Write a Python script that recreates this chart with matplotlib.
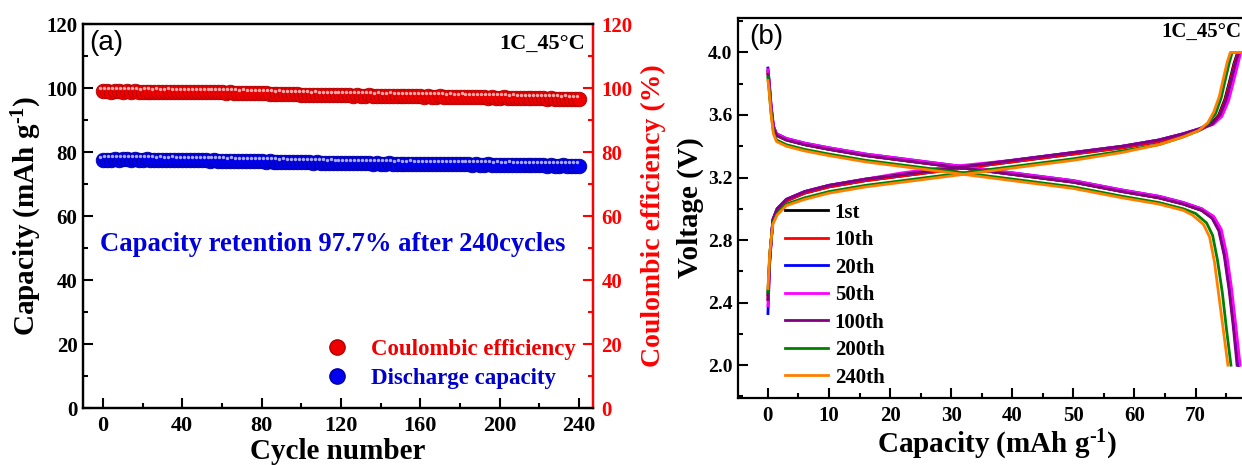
import numpy as np
import matplotlib
matplotlib.use('Agg')
import matplotlib.pyplot as plt
from matplotlib.ticker import MultipleLocator, FormatStrFormatter
from matplotlib.lines import Line2D
import matplotlib.transforms as mtransforms

plt.rcParams['font.family'] = ['Liberation Serif', 'DejaVu Serif']
plt.rcParams['font.weight'] = 'bold'
plt.rcParams['axes.labelweight'] = 'bold'
plt.rcParams['mathtext.fontset'] = 'custom'
plt.rcParams['mathtext.rm'] = 'Liberation Serif:bold'
plt.rcParams['mathtext.default'] = 'rm'

# ---------------- (a) cycling at 1C, 45 C ----------------
cycles = np.arange(0, 241, 2)
coulombic_eff = [99.0, 99.1, 98.9, 99.0, 99.1, 98.9, 99.0, 98.9, 99.0, 98.9,
                 98.8, 98.9, 98.9, 98.8, 98.9, 98.8, 98.8, 98.9, 98.8, 98.7,
                 98.8, 98.8, 98.7, 98.8, 98.7, 98.7, 98.6, 98.7, 98.7, 98.6,
                 98.6, 98.5, 98.6, 98.5, 98.5, 98.4, 98.5, 98.4, 98.4, 98.3,
                 98.3, 98.3, 98.2, 98.2, 98.1, 98.2, 98.1, 98.0, 98.0, 98.0,
                 97.9, 97.9, 97.9, 97.8, 97.9, 97.8, 97.8, 97.7, 97.8, 97.7,
                 97.7, 97.8, 97.7, 97.6, 97.7, 97.6, 97.6, 97.7, 97.6, 97.5,
                 97.6, 97.5, 97.5, 97.6, 97.5, 97.4, 97.5, 97.4, 97.4, 97.5,
                 97.4, 97.3, 97.4, 97.3, 97.3, 97.4, 97.3, 97.2, 97.3, 97.2,
                 97.2, 97.3, 97.2, 97.1, 97.2, 97.1, 97.1, 97.0, 97.1, 97.0,
                 97.0, 97.1, 97.0, 96.9, 97.0, 96.9, 96.9, 96.8, 96.9, 96.8,
                 96.8, 96.8, 96.7, 96.8, 96.7, 96.7, 96.6, 96.7, 96.6, 96.6,
                 96.6]
discharge_cap = [77.5, 77.6, 77.6, 77.7, 77.6, 77.7, 77.7, 77.6, 77.7, 77.6,
                 77.6, 77.7, 77.6, 77.6, 77.5, 77.6, 77.5, 77.5, 77.6, 77.5,
                 77.5, 77.4, 77.5, 77.4, 77.4, 77.5, 77.4, 77.3, 77.4, 77.3,
                 77.3, 77.3, 77.2, 77.3, 77.2, 77.2, 77.1, 77.2, 77.1, 77.1,
                 77.1, 77.0, 77.1, 77.0, 77.0, 76.9, 77.0, 76.9, 76.9, 76.8,
                 76.9, 76.8, 76.8, 76.7, 76.8, 76.7, 76.7, 76.6, 76.7, 76.6,
                 76.6, 76.6, 76.5, 76.6, 76.5, 76.5, 76.6, 76.5, 76.4, 76.5,
                 76.4, 76.4, 76.5, 76.4, 76.3, 76.4, 76.3, 76.3, 76.4, 76.3,
                 76.3, 76.2, 76.3, 76.2, 76.2, 76.3, 76.2, 76.1, 76.2, 76.1,
                 76.1, 76.2, 76.1, 76.0, 76.1, 76.0, 76.0, 76.1, 76.0, 75.9,
                 76.0, 75.9, 75.9, 76.0, 75.9, 75.8, 75.9, 75.8, 75.8, 75.9,
                 75.8, 75.8, 75.7, 75.8, 75.7, 75.7, 75.8, 75.7, 75.7, 75.7,
                 75.7]
retention_text = 'Capacity retention 97.7% after 240cycles'

# ---------------- (b) charge / discharge profiles ----------------
cycle_labels = ['1st', '10th', '20th', '50th', '100th', '200th', '240th']
cycle_colors = ['black', '#ff0000', '#0000ff', '#ff00ff', '#800080', '#008000', '#ff8000']

charge_cap = {
    '1st':   [0, 0.3, 0.8, 1.5, 3, 6, 10, 16, 22, 30, 40, 50, 58, 64, 68, 70.5, 72.5, 73.8, 74.8, 75.6, 76.3, 76.9, 79.9],
    '10th':  [0, 0.3, 0.8, 1.5, 3, 6, 10, 16, 22, 30, 40, 50, 58, 64, 68, 70.5, 72.6, 73.9, 74.9, 75.7, 76.4, 77.0, 79.9],
    '20th':  [0, 0.3, 0.8, 1.5, 3, 6, 10, 16, 22, 30, 40, 50, 58, 64, 68, 70.5, 72.8, 74.1, 75.1, 75.9, 76.6, 77.2, 79.9],
    '50th':  [0, 0.3, 0.8, 1.5, 3, 6, 10, 16, 22, 30, 40, 50, 58, 64, 68, 70.5, 72.9, 74.3, 75.4, 76.2, 76.9, 77.4, 79.9],
    '100th': [0, 0.3, 0.8, 1.5, 3, 6, 10, 16, 22, 30, 40, 50, 58, 64, 68, 70.5, 72.7, 74.0, 75.0, 75.8, 76.5, 77.1, 79.9],
    '200th': [0, 0.3, 0.8, 1.5, 3, 6, 10, 16, 22, 30, 40, 50, 58, 64, 68, 70.5, 72.2, 73.3, 74.2, 74.9, 75.5, 76.0, 79.9],
    '240th': [0, 0.3, 0.8, 1.5, 3, 6, 10, 16, 22, 30, 40, 50, 58, 64, 68, 70.5, 72.0, 73.0, 73.9, 74.6, 75.2, 75.7, 79.9],
}
charge_volt = {
    '1st':   [2.45, 2.70, 2.92, 2.99, 3.05, 3.10, 3.14, 3.18, 3.21, 3.25, 3.30, 3.35, 3.39, 3.43, 3.47, 3.50, 3.54, 3.60, 3.70, 3.82, 3.93, 4.00, 4.00],
    '10th':  [2.42, 2.69, 2.92, 2.99, 3.05, 3.10, 3.14, 3.18, 3.21, 3.25, 3.30, 3.35, 3.39, 3.43, 3.47, 3.50, 3.54, 3.60, 3.70, 3.82, 3.93, 4.00, 4.00],
    '20th':  [2.33, 2.66, 2.93, 3.00, 3.06, 3.11, 3.15, 3.19, 3.22, 3.26, 3.31, 3.36, 3.40, 3.44, 3.48, 3.51, 3.55, 3.60, 3.70, 3.82, 3.93, 4.00, 4.00],
    '50th':  [2.38, 2.67, 2.93, 3.00, 3.06, 3.11, 3.15, 3.19, 3.23, 3.27, 3.31, 3.36, 3.40, 3.44, 3.48, 3.51, 3.54, 3.59, 3.69, 3.81, 3.92, 4.00, 4.00],
    '100th': [2.42, 2.68, 2.93, 3.00, 3.06, 3.11, 3.15, 3.19, 3.22, 3.26, 3.31, 3.36, 3.40, 3.44, 3.48, 3.51, 3.54, 3.60, 3.70, 3.82, 3.93, 4.00, 4.00],
    '200th': [2.47, 2.71, 2.91, 2.97, 3.03, 3.07, 3.11, 3.15, 3.18, 3.22, 3.27, 3.32, 3.37, 3.41, 3.46, 3.50, 3.55, 3.61, 3.71, 3.83, 3.93, 4.00, 4.00],
    '240th': [2.49, 2.72, 2.90, 2.96, 3.02, 3.06, 3.10, 3.14, 3.17, 3.21, 3.26, 3.31, 3.36, 3.41, 3.46, 3.50, 3.55, 3.62, 3.72, 3.84, 3.94, 4.00, 4.00],
}
discharge_cap_b = {
    '1st':   [0, 0.2, 0.5, 0.9, 1.4, 3, 6, 10, 16, 22, 30, 40, 50, 58, 64, 68, 71, 72.8, 73.9, 74.8, 75.6, 76.3, 77.0],
    '10th':  [0, 0.2, 0.5, 0.9, 1.4, 3, 6, 10, 16, 22, 30, 40, 50, 58, 64, 68, 71, 72.8, 73.9, 74.8, 75.6, 76.3, 77.0],
    '20th':  [0, 0.2, 0.5, 0.9, 1.4, 3, 6, 10, 16, 22, 30, 40, 50, 58, 64, 68, 71, 72.9, 74.0, 74.9, 75.7, 76.4, 77.1],
    '50th':  [0, 0.2, 0.5, 0.9, 1.4, 3, 6, 10, 16, 22, 30, 40, 50, 58, 64, 68, 71, 73.0, 74.2, 75.1, 75.9, 76.6, 77.3],
    '100th': [0, 0.2, 0.5, 0.9, 1.4, 3, 6, 10, 16, 22, 30, 40, 50, 58, 64, 68, 71, 72.7, 73.8, 74.7, 75.5, 76.2, 76.8],
    '200th': [0, 0.2, 0.5, 0.9, 1.4, 3, 6, 10, 16, 22, 30, 40, 50, 58, 64, 68, 70, 71.8, 72.8, 73.6, 74.4, 75.1, 75.8],
    '240th': [0, 0.2, 0.5, 0.9, 1.4, 3, 6, 10, 16, 22, 30, 40, 50, 58, 64, 68, 69.5, 71.3, 72.3, 73.1, 73.8, 74.6, 75.3],
}
discharge_volt = {
    '1st':   [3.88, 3.80, 3.65, 3.52, 3.47, 3.44, 3.41, 3.38, 3.34, 3.31, 3.27, 3.22, 3.17, 3.11, 3.07, 3.03, 2.99, 2.94, 2.86, 2.70, 2.48, 2.24, 2.00],
    '10th':  [3.87, 3.79, 3.65, 3.52, 3.47, 3.44, 3.41, 3.38, 3.34, 3.31, 3.27, 3.22, 3.17, 3.11, 3.07, 3.03, 2.99, 2.94, 2.86, 2.70, 2.48, 2.24, 2.00],
    '20th':  [3.90, 3.82, 3.67, 3.53, 3.48, 3.45, 3.42, 3.39, 3.35, 3.32, 3.28, 3.23, 3.18, 3.12, 3.08, 3.04, 3.00, 2.95, 2.87, 2.71, 2.49, 2.25, 2.00],
    '50th':  [3.89, 3.81, 3.66, 3.53, 3.48, 3.45, 3.42, 3.39, 3.35, 3.32, 3.28, 3.23, 3.18, 3.12, 3.08, 3.04, 3.00, 2.95, 2.87, 2.71, 2.49, 2.25, 2.00],
    '100th': [3.86, 3.78, 3.64, 3.52, 3.47, 3.44, 3.41, 3.38, 3.34, 3.31, 3.27, 3.22, 3.17, 3.11, 3.07, 3.03, 2.99, 2.94, 2.86, 2.70, 2.48, 2.24, 2.00],
    '200th': [3.84, 3.76, 3.62, 3.49, 3.44, 3.41, 3.38, 3.35, 3.31, 3.28, 3.24, 3.19, 3.14, 3.08, 3.04, 3.00, 2.97, 2.91, 2.83, 2.67, 2.46, 2.22, 2.00],
    '240th': [3.82, 3.75, 3.61, 3.48, 3.43, 3.40, 3.37, 3.34, 3.30, 3.27, 3.23, 3.18, 3.13, 3.07, 3.03, 2.99, 2.96, 2.90, 2.82, 2.66, 2.45, 2.21, 2.00],
}

W, H = 1242, 465
fig = plt.figure(figsize=(W / 100, H / 100), dpi=100)

tick_fs = 15
label_fs = 21
cap_label = r'Capacity (mAh g$^{\text{-1}}$)'


def style_axis(ax):
    ax.tick_params(which='both', direction='in', width=1.5, labelsize=tick_fs, pad=6)
    ax.tick_params(which='major', length=7)
    ax.tick_params(which='minor', length=3.5)
    for sp in ax.spines.values():
        sp.set_linewidth(1.6)


# panel (a)
ax1 = fig.add_axes([83 / W, 1 - 408 / H, 510 / W, 384 / H])
ax2 = ax1.twinx()

ax2.scatter(cycles, coulombic_eff, s=110, color='#ee0000', edgecolors='#b00000',
            linewidths=0.6, zorder=3)
ax2.scatter(cycles, coulombic_eff, s=6, color='#ffaaaa', linewidths=0, zorder=4,
            transform=mtransforms.offset_copy(ax2.transData, fig=fig, x=-1.8, y=2.4, units='points'))
ax1.scatter(cycles, discharge_cap, s=110, color='#0000ee', edgecolors='#0000a0',
            linewidths=0.6, zorder=3)
ax1.scatter(cycles, discharge_cap, s=6, color='#aaaaff', linewidths=0, zorder=4,
            transform=mtransforms.offset_copy(ax1.transData, fig=fig, x=-1.8, y=2.4, units='points'))

ax1.set_xlim(-10, 247)
ax1.set_ylim(0, 120)
ax2.set_ylim(0, 120)
ax1.xaxis.set_major_locator(MultipleLocator(40))
ax1.xaxis.set_minor_locator(MultipleLocator(20))
ax1.yaxis.set_major_locator(MultipleLocator(20))
ax1.yaxis.set_minor_locator(MultipleLocator(10))
ax2.yaxis.set_major_locator(MultipleLocator(20))
ax2.yaxis.set_minor_locator(MultipleLocator(10))
style_axis(ax1)
style_axis(ax2)
ax2.tick_params(which='both', colors='#ff0000', labelcolor='#ff0000')
ax2.spines['right'].set_color('#ff0000')
ax1.tick_params(axis='y', pad=4)
ax1.tick_params(axis='x', labelsize=16)

ax1.set_xlabel('Cycle number', fontsize=label_fs, labelpad=1)
ax1.set_ylabel(cap_label, fontsize=label_fs, labelpad=2)
ax2.set_ylabel('Coulombic efficiency (%)', fontsize=label_fs - 1, color='#ff0000', labelpad=6)

ax1.text(0.012, 0.985, '(a)', transform=ax1.transAxes, ha='left', va='top',
         fontsize=20, fontweight='normal', family='Liberation Sans')
ax1.text(0.985, 0.975, '1C_45\u00b0C', transform=ax1.transAxes, ha='right', va='top', fontsize=16)
ax1.text(0.033, 0.425, retention_text, transform=ax1.transAxes, ha='left', va='center',
         fontsize=19.2, color='#0000dd')

leg_handles = [
    Line2D([], [], ls='', marker='o', ms=11, color='#ee0000', mec='#b00000'),
    Line2D([], [], ls='', marker='o', ms=11, color='#0000ee', mec='#0000a0'),
]
leg = ax1.legend(leg_handles, ['Coulombic efficiency', 'Discharge capacity'], loc='lower right',
                 bbox_to_anchor=(0.985, 0.025), frameon=False, fontsize=16.5, handletextpad=0.5,
                 labelspacing=0.35, borderaxespad=0)
for t, c in zip(leg.get_texts(), ['#ee0000', '#0000cc']):
    t.set_color(c)

# panel (b)
ax3 = fig.add_axes([738 / W, 1 - 398 / H, 518 / W, 380 / H])
for lab, col in zip(cycle_labels, cycle_colors):
    ax3.plot(charge_cap[lab], charge_volt[lab], color=col, lw=2.0, label=lab)
    ax3.plot(discharge_cap_b[lab], discharge_volt[lab], color=col, lw=2.0)

ax3.set_xlim(-4.9, 79.9)
ax3.set_ylim(1.79, 4.22)
ax3.xaxis.set_major_locator(MultipleLocator(10))
ax3.xaxis.set_minor_locator(MultipleLocator(5))
ax3.yaxis.set_major_locator(MultipleLocator(0.4))
ax3.yaxis.set_minor_locator(MultipleLocator(0.2))
ax3.yaxis.set_major_formatter(FormatStrFormatter('%.1f'))
style_axis(ax3)
ax3.tick_params(axis='y', labelsize=14, pad=4)
ax3.set_xlabel(cap_label, fontsize=label_fs, labelpad=1)
ax3.set_ylabel('Voltage (V)', fontsize=label_fs, labelpad=3)
ax3.text(0.022, 0.985, '(b)', transform=ax3.transAxes, ha='left', va='top',
         fontsize=20, fontweight='normal', family='Liberation Sans')
fig.text(1241 / W, 1 - 22 / H, '1C_45\u00b0C', ha='right', va='top', fontsize=15)
ax3.legend(loc='lower left', bbox_to_anchor=(0.07, 0.0), frameon=False, fontsize=15,
           handlelength=2.1, handletextpad=0.3, labelspacing=0.36, borderaxespad=0.1)

fig.savefig('out.png', dpi=100)
